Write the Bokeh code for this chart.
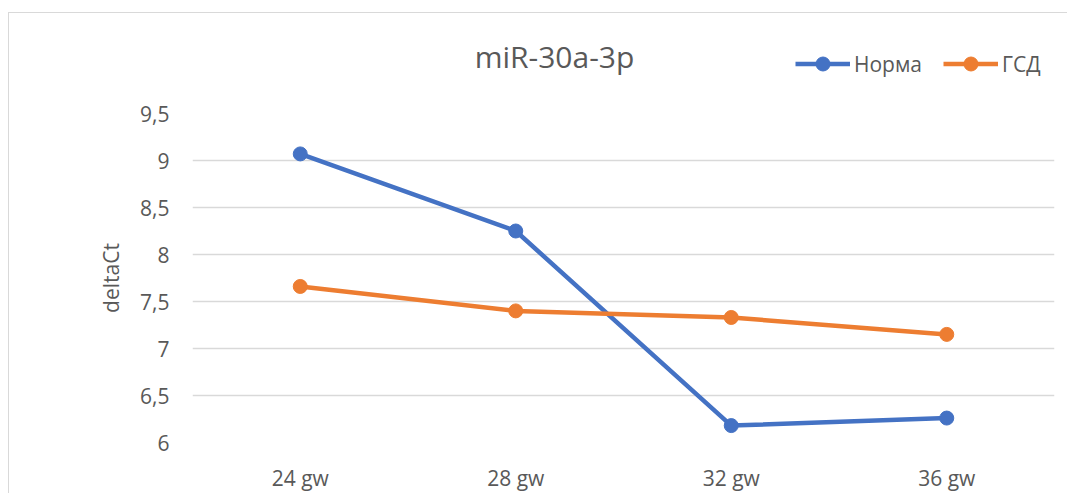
from bokeh.plotting import figure
from bokeh.layouts import column
from bokeh.models import FactorRange, Range1d, FixedTicker, Legend, LegendItem, Label
from bokeh.embed import file_html
from bokeh.resources import INLINE

categories = ["24 gw", "28 gw", "32 gw", "36 gw"]
norma = [9.07, 8.25, 6.18, 6.26]
gsd = [7.66, 7.40, 7.33, 7.15]
series_names = ["Норма", "ГСД"]
y_ticks = [6, 6.5, 7, 7.5, 8, 8.5, 9, 9.5]
y_tick_labels = ["6", "6,5", "7", "7,5", "8", "8,5", "9", "9,5"]
title_text = "miR-30a-3p"
y_label = "deltaCt"

FONT = "Open Sans"
TXT = "#595959"
BLUE = "#4472C4"
ORANGE = "#ED7D31"
W, H_TOP, H_MAIN = 1059, 88, 393
BL, BR = 183, 14
NAN = [float("nan")]

# ---- header: title + legend
head = figure(x_range=Range1d(BL, W - BR), y_range=Range1d(0, H_TOP), width=W, height=H_TOP,
              output_backend="svg", toolbar_location=None,
              x_axis_location=None, y_axis_location=None,
              min_border_left=BL, min_border_right=BR, min_border_top=0, min_border_bottom=0)
head.outline_line_color = None
head.grid.grid_line_color = None
head.add_layout(Label(x=545, y=H_TOP - 43, text=title_text, text_align="center",
                      text_baseline="middle", text_font=FONT, text_font_size="30px",
                      text_color=TXT))
# legend-only renderers (no visible data in the header)
d1l = head.line(NAN, NAN, line_color=BLUE, line_width=4.5)
d1s = head.scatter(NAN, NAN, size=14, fill_color=BLUE, line_color=BLUE)
d2l = head.line(NAN, NAN, line_color=ORANGE, line_width=4.5)
d2s = head.scatter(NAN, NAN, size=14, fill_color=ORANGE, line_color=ORANGE)
legend = Legend(items=[LegendItem(label=series_names[0], renderers=[d1l, d1s]),
                       LegendItem(label=series_names[1], renderers=[d2l, d2s])],
                orientation="horizontal", location=(786 - BL, 20))
legend.label_text_font = FONT
legend.label_text_font_size = "21px"
legend.label_text_color = TXT
legend.glyph_width = 55
legend.glyph_height = 35
legend.label_height = 20
legend.label_standoff = 4
legend.spacing = 21
legend.padding = 0
legend.margin = 0
legend.border_line_alpha = 0
legend.background_fill_alpha = 0
head.add_layout(legend, "center")

# ---- main chart
p = figure(x_range=FactorRange(*categories), y_range=Range1d(6, 9.5),
           width=W, height=H_MAIN, output_backend="svg", toolbar_location=None,
           min_border_left=BL, min_border_right=BR, min_border_top=12, min_border_bottom=45)

p.line(categories, norma, line_color=BLUE, line_width=4.5)
p.scatter(categories, norma, size=14, fill_color=BLUE, line_color=BLUE)
p.line(categories, gsd, line_color=ORANGE, line_width=4.5)
p.scatter(categories, gsd, size=14, fill_color=ORANGE, line_color=ORANGE)

p.outline_line_color = None
p.xgrid.grid_line_color = None
p.ygrid.grid_line_color = "#d9d9d9"
p.ygrid.grid_line_width = 1.3

p.yaxis.ticker = FixedTicker(ticks=y_ticks)
p.yaxis.major_label_overrides = dict(zip(y_ticks, y_tick_labels))
p.yaxis.axis_label = y_label
p.yaxis.axis_label_text_font = FONT
p.yaxis.axis_label_text_font_size = "21px"
p.yaxis.axis_label_text_font_style = "normal"
p.yaxis.axis_label_text_color = TXT
p.yaxis.axis_label_standoff = 12
p.yaxis.major_label_standoff = 23

for ax in (p.xaxis, p.yaxis):
    ax.axis_line_color = None
    ax.major_tick_line_color = None
    ax.minor_tick_line_color = None
    ax.major_tick_out = 0
    ax.major_tick_in = 0
    ax.major_label_text_font = FONT
    ax.major_label_text_font_size = "21px"
    ax.major_label_text_color = TXT
p.xaxis.major_label_standoff = 21

layout = column(head, p, spacing=0)
layout.styles = {"margin-left": "8px", "margin-top": "12px",
                 "border-left": "1px solid #d9d9d9", "border-top": "1px solid #d9d9d9"}

open("out.html", "w").write(file_html(layout, INLINE))
